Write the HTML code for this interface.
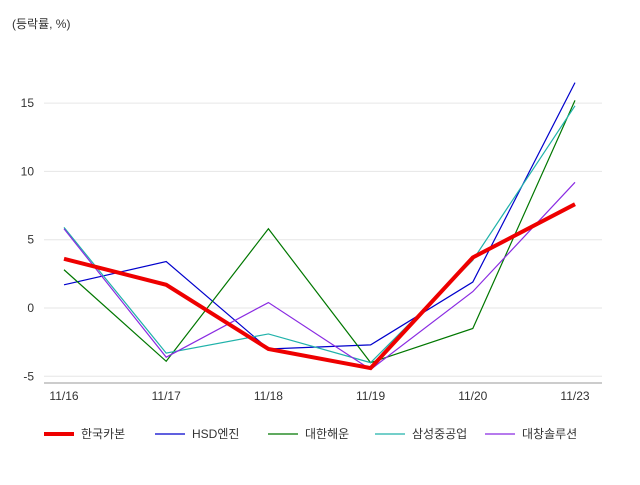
<!DOCTYPE html>
<html><head><meta charset="utf-8"><style>
body{margin:0;background:#fff;font-family:"Liberation Sans","Noto Sans CJK KR",sans-serif;}
svg text{font-family:"Liberation Sans","Noto Sans CJK KR",sans-serif;font-size:12px;fill:#333;}
</style></head><body>
<svg id="chart" width="640" height="480">
<text x="12" y="28">(등락률, %)</text>
<g id="grid"></g><g id="lines"></g><g id="legend"></g>
</svg>
<script>
const categories=["11/16","11/17","11/18","11/19","11/20","11/23"];
const yTicks=[-5,0,5,10,15];
const seriesNames=["한국카본","HSD엔진","대한해운","삼성중공업","대창솔루션"];
const sKorean=[3.6,1.7,-3.0,-4.4,3.7,7.6];
const sHsd=[1.7,3.4,-3.0,-2.7,1.9,16.5];
const sDaehan=[2.8,-3.9,5.8,-4.0,-1.5,15.2];
const sSamsung=[5.9,-3.3,-1.9,-4.0,3.5,14.8];
const sDaechang=[5.8,-3.6,0.4,-4.5,1.2,9.2];
const seriesData=[sKorean,sHsd,sDaehan,sSamsung,sDaechang];
const colors=["#ee0000","#0000cc","#007700","#20b2aa","#8a2be2"];
const widths=[4,1.2,1.2,1.2,1.2];
const NS="http://www.w3.org/2000/svg";
const x=i=>64+i*102.2;
const y=v=>308-v*13.66;
const grid=document.getElementById('grid');
function mk(t,a,p){const e=document.createElementNS(NS,t);for(const k in a)e.setAttribute(k,a[k]);p.appendChild(e);return e;}
yTicks.forEach(v=>{
 const l=mk('line',{x1:44,x2:602,y1:y(v),y2:y(v),stroke:'#e6e6e6'},grid);
 
 
 const t=mk('text',{x:34,y:y(v)+4,'text-anchor':'end'},grid);t.textContent=v;
 
 
});
const ax=mk('line',{x1:44,x2:602,y1:383,y2:383,stroke:'#999'},grid);


categories.forEach((c,i)=>{
 const t=mk('text',{x:x(i),y:400,'text-anchor':'middle'},grid);t.textContent=c;
 
 
});
const lines=document.getElementById('lines');
[1,2,3,4,0].forEach(s=>{
 const p=mk('polyline',{points:seriesData[s].map((v,i)=>x(i)+','+y(v)).join(' '),fill:'none',stroke:colors[s],'stroke-width':widths[s]},lines);
 
 
});
const lg=document.getElementById('legend');
const lx=[44,155,268,375,485];
seriesNames.forEach((n,i)=>{
 const l=mk('line',{x1:lx[i],x2:lx[i]+30,y1:434,y2:434,stroke:colors[i],'stroke-width':widths[i]},lg);
 
 
 const t=mk('text',{x:lx[i]+37,y:438},lg);t.textContent=n;
 
 
});
</script>
</body></html>
